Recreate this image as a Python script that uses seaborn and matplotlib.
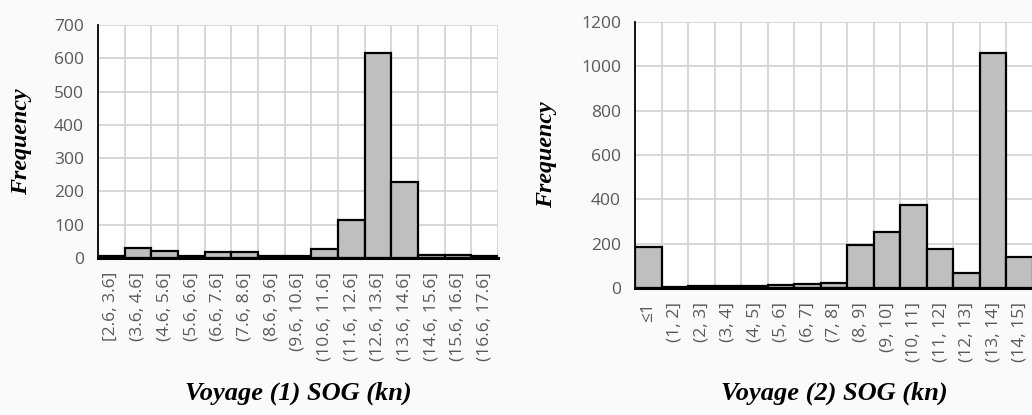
import numpy as np
import pandas as pd
import matplotlib
matplotlib.use("Agg")
import matplotlib.pyplot as plt
import seaborn as sns

# ---- data ----
cats1 = ["[2.6, 3.6]", "(3.6, 4.6]", "(4.6, 5.6]", "(5.6, 6.6]", "(6.6, 7.6]",
         "(7.6, 8.6]", "(8.6, 9.6]", "(9.6, 10.6]", "(10.6, 11.6]", "(11.6, 12.6]",
         "(12.6, 13.6]", "(13.6, 14.6]", "(14.6, 15.6]", "(15.6, 16.6]", "(16.6, 17.6]"]
freq1 = [7, 29, 22, 7, 17, 17, 7, 7, 28, 115, 617, 229, 10, 10, 7]

cats2 = ["≤1", "(1, 2]", "(2, 3]", "(3, 4]", "(4, 5]", "(5, 6]", "(6, 7]", "(7, 8]",
         "(8, 9]", "(9, 10]", "(10, 11]", "(11, 12]", "(12, 13]", "(13, 14]", "(14, 15]"]
freq2 = [187, 3, 9, 9, 9, 14, 17, 24, 194, 254, 375, 176, 69, 1059, 142]

yticks1 = [0, 100, 200, 300, 400, 500, 600, 700]
yticks2 = [0, 200, 400, 600, 800, 1000, 1200]

xlabel1 = "Voyage (1) SOG (kn)"
xlabel2 = "Voyage (2) SOG (kn)"
ylabel = "Frequency"

sns.set_style("white")
plt.rcParams["font.family"] = ["Open Sans", "DejaVu Sans"]

W, H = 1032, 415
fig = plt.figure(figsize=(W / 100, H / 100), dpi=100, facecolor="#fafafa")

def px_axes(l, r, t, b):
    return fig.add_axes([l / W, 1 - b / H, (r - l) / W, (b - t) / H])

ax1 = px_axes(98, 498, 25, 258)
ax2 = px_axes(635, 1033, 22, 288)

serif = ["Liberation Serif", "DejaVu Serif"]
xlab_font = dict(family=serif, weight="bold", style="italic", size=19, color="black")
ylab_font = dict(family=serif, weight="bold", style="italic", size=17.3, color="black")

def draw(ax, cats, vals, yticks, xlabel):
    df = pd.DataFrame({"cat": cats, "val": vals})
    sns.barplot(data=df, x="cat", y="val", order=cats, color="#bfbfbf",
                saturation=1, edgecolor="black", linewidth=1.6, width=1.0, ax=ax,
                zorder=3)
    n = len(cats)
    ax.set_facecolor("white")
    ax.set_xlim(-0.5, n - 0.5)
    ax.set_ylim(0, yticks[-1])
    ax.set_yticks(yticks)
    ax.set_xticks(np.arange(-0.5, n, 1), minor=True)
    ax.set_axisbelow(True)
    ax.grid(False)
    ax.grid(which="minor", axis="x", color="#d4d4d4", linewidth=1.3)
    ax.grid(which="major", axis="y", color="#d4d4d4", linewidth=1.3)
    for s in ["top", "right"]:
        ax.spines[s].set_visible(False)
    ax.spines["left"].set_color("black")
    ax.spines["left"].set_linewidth(1.3)
    ax.spines["bottom"].set_color("black")
    ax.spines["bottom"].set_linewidth(2.2)
    ax.spines["bottom"].set_zorder(4)
    ax.tick_params(axis="x", which="both", length=0, pad=10, labelsize=12.5,
                   labelcolor="#595959", rotation=90)
    ax.tick_params(axis="y", length=0, pad=10, labelsize=12.5, labelcolor="#595959")
    ax.set_xlabel(xlabel, fontdict=xlab_font)
    ax.set_ylabel(ylabel, fontdict=ylab_font)

draw(ax1, cats1, freq1, yticks1, xlabel1)
draw(ax2, cats2, freq2, yticks2, xlabel2)

ax1.xaxis.set_label_coords(0.5, -(393 - 258) / 233)
ax2.xaxis.set_label_coords(0.5, -(393 - 288) / 266)
ax1.yaxis.set_label_coords(-(98 - 22) / 400, 0.5)
ax2.yaxis.set_label_coords(-(635 - 547) / 398, 0.5)
for ax in (ax1, ax2):
    ax.xaxis.label.set_verticalalignment("center")
    ax.yaxis.label.set_verticalalignment("center")

fig.savefig("out.png", dpi=100, facecolor=fig.get_facecolor())
